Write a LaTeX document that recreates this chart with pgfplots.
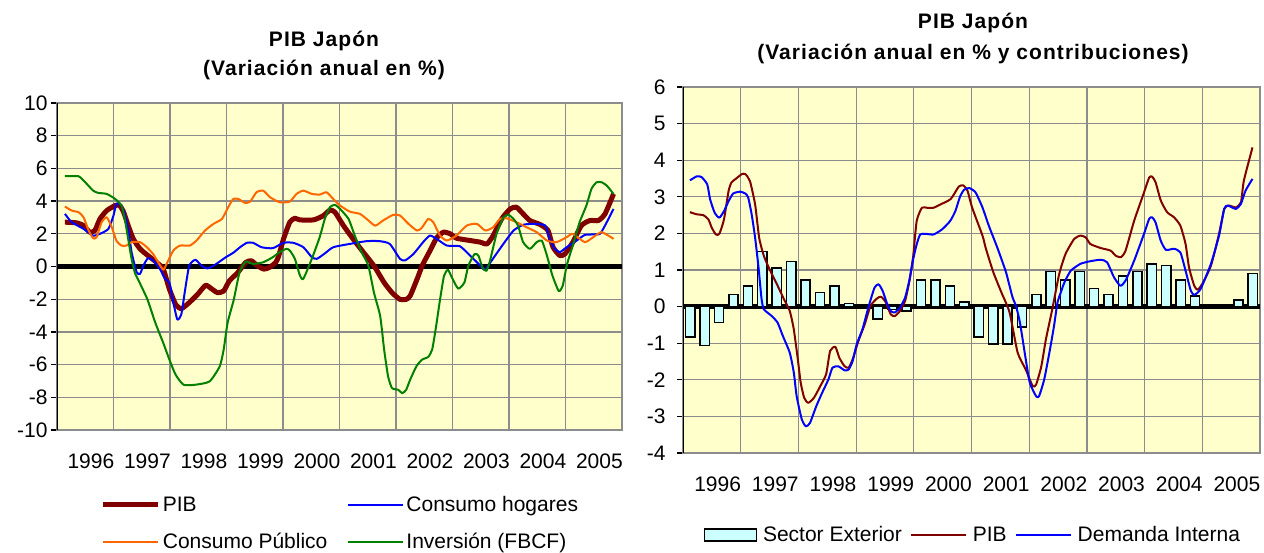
\documentclass[border=0pt]{standalone}
\usepackage{fontspec}
\setmainfont{Liberation Sans}
\newfontfamily\titlefont[LetterSpace=5]{Liberation Sans}
\usepackage{pgfplots}
\pgfplotsset{compat=1.18}
\definecolor{plotbg}{HTML}{FFFFCC}
\definecolor{pibred}{HTML}{800000}
\definecolor{gridgray}{HTML}{8C8C8C}
\definecolor{cyanbar}{HTML}{CCFFFF}
\definecolor{orangeC}{HTML}{FF6600}
\definecolor{greenI}{HTML}{008000}
\definecolor{blueC}{HTML}{0000FF}
\pgfplotsset{
  excelax/.style={
    scale only axis, anchor=south west,
    axis background/.style={fill=plotbg},
    axis line style={draw=gridgray, line width=1.2pt},
    xmin=0, xmax=10,
    xtick={0.6,1.6,2.6,3.6,4.6,5.6,6.6,7.6,8.6,9.6},
    xticklabels={1996,1997,1998,1999,2000,2001,2002,2003,2004,2005},
    minor xtick={1,2,3,4,5,6,7,8,9},
    xminorgrids=true, ymajorgrids=true,
    major grid style={draw=gridgray, line width=1.2pt},
    minor grid style={draw=gridgray, line width=1.2pt},
    x tick style={draw=none},
    y tick style={draw=black, line width=1.2pt},
    ytick pos=left, xtick pos=bottom,
    tick align=outside,
    major tick length=6pt, minor tick length=0pt,
    tick label style={font=\fontsize{21}{25}\selectfont},
    xticklabel style={yshift=-14pt},
    legend style={draw=none, fill=none, font=\fontsize{21}{25}\selectfont},
    legend cell align=left,
    legend image code/.code={\draw[##1] (0pt,0pt) -- (55pt,0pt);},
  }
}
\begin{document}
\begin{tikzpicture}
\useasboundingbox (0,0) rectangle (1264pt,552pt);
% ---------- titles
\node[font=\titlefont\fontsize{21}{25}\selectfont\bfseries] at (324pt,511pt) {PIB Japón};
\node[font=\titlefont\fontsize{21}{25}\selectfont\bfseries] at (324pt,482pt) {(Variación anual en \%)};
\node[font=\titlefont\fontsize{21}{25}\selectfont\bfseries] at (973pt,529pt) {PIB Japón};
\node[font=\titlefont\fontsize{21}{25}\selectfont\bfseries] at (973pt,498pt) {(Variación anual en \% y contribuciones)};
% ---------- left chart
\begin{axis}[excelax,
  at={(57pt,122pt)}, width=565pt, height=327pt,
  ymin=-10, ymax=10,
  ytick={-10,-8,-6,-4,-2,0,2,4,6,8,10},
  yticklabels={-10,-8,-6,-4,-2,0,2,4,6,8,10},
  extra y ticks={0}, extra y tick labels={},
  extra y tick style={ymajorgrids=true, major grid style={draw=black, line width=4.5pt}, major tick length=0pt},
  legend columns=2,
  legend style={at={(axis description cs:0.072,-0.19)}, anchor=north west,
    /tikz/every even column/.append style={column sep=18pt}, row sep=16pt},
]
\addplot[pibred, line width=5pt, line join=round, smooth, tension=0.35] coordinates {
(0.14,2.71)(0.35,2.67)(0.47,2.50)(0.58,2.10)(0.67,2.20)(0.76,2.91)(0.88,3.42)(1.03,3.73)(1.11,3.73)(1.18,3.32)(1.26,2.50)(1.35,1.69)(1.47,1.08)(1.61,0.67)(1.76,0.26)(1.88,-0.16)(1.99,-1.39)(2.10,-2.32)(2.20,-2.58)(2.34,-2.21)(2.49,-1.70)(2.63,-1.15)(2.73,-1.35)(2.84,-1.60)(2.95,-1.50)(3.05,-0.88)(3.20,-0.37)(3.34,0.25)(3.44,0.35)(3.55,0.04)(3.66,-0.16)(3.76,-0.06)(3.87,0.25)(3.92,0.60)(4.01,1.69)(4.12,2.71)(4.21,2.95)(4.30,2.85)(4.54,2.85)(4.71,3.10)(4.83,3.45)(4.92,3.32)(5.07,2.50)(5.24,1.69)(5.42,0.88)(5.61,0.04)(5.79,-0.98)(5.93,-1.60)(6.07,-2.01)(6.18,-2.01)(6.25,-1.80)(6.37,-0.80)(6.47,0.10)(6.60,0.95)(6.72,1.75)(6.84,2.10)(6.96,2.00)(7.07,1.73)(7.31,1.59)(7.49,1.49)(7.61,1.38)(7.72,1.89)(7.87,2.91)(8.02,3.52)(8.13,3.63)(8.25,3.22)(8.37,2.81)(8.55,2.57)(8.69,2.20)(8.78,1.18)(8.90,0.67)(8.99,0.77)(9.13,1.49)(9.28,2.50)(9.43,2.81)(9.58,2.81)(9.70,3.22)(9.85,4.44)
};
\addlegendentry{PIB}
\addplot[blueC, line width=2pt, line join=round, smooth, tension=0.35] coordinates {
(0.14,3.22)(0.26,2.71)(0.47,2.30)(0.64,1.89)(0.76,2.00)(0.91,2.30)(1.00,3.12)(1.05,3.83)(1.11,3.83)(1.18,3.42)(1.26,2.30)(1.32,0.88)(1.41,-0.35)(1.47,-0.45)(1.53,0.06)(1.61,0.51)(1.70,0.37)(1.82,-0.14)(1.91,-0.75)(1.99,-1.00)(2.06,-2.21)(2.13,-3.24)(2.20,-2.93)(2.26,-1.60)(2.34,0.04)(2.45,0.41)(2.56,0.04)(2.66,-0.12)(2.77,0.04)(2.98,0.55)(3.12,0.84)(3.24,1.18)(3.36,1.45)(3.47,1.45)(3.62,1.18)(3.82,1.12)(4.01,1.45)(4.18,1.45)(4.36,1.18)(4.51,0.57)(4.60,0.47)(4.74,0.80)(4.89,1.18)(5.18,1.38)(5.48,1.55)(5.71,1.55)(5.89,1.38)(6.07,0.47)(6.16,0.37)(6.31,0.77)(6.48,1.49)(6.60,1.89)(6.72,1.69)(6.90,1.28)(7.13,1.24)(7.31,0.67)(7.49,0.06)(7.57,-0.20)(7.67,0.25)(7.90,1.38)(8.08,2.20)(8.25,2.55)(8.43,2.61)(8.64,2.51)(8.72,1.69)(8.81,1.08)(8.90,0.88)(9.02,1.18)(9.20,1.59)(9.34,1.93)(9.49,1.96)(9.61,2.00)(9.70,2.51)(9.85,3.52)
};
\addlegendentry{Consumo hogares}
\addplot[orangeC, line width=2pt, line join=round, smooth, tension=0.35] coordinates {
(0.14,3.67)(0.26,3.42)(0.38,3.32)(0.47,3.01)(0.56,2.20)(0.64,1.73)(0.70,1.79)(0.79,2.71)(0.88,3.01)(0.97,2.40)(1.05,1.59)(1.14,1.28)(1.23,1.28)(1.32,1.49)(1.47,1.49)(1.59,1.18)(1.70,0.77)(1.79,0.26)(1.88,-0.20)(1.94,0.16)(2.06,0.98)(2.18,1.28)(2.35,1.28)(2.47,1.59)(2.62,2.20)(2.77,2.61)(2.92,2.91)(3.03,3.63)(3.12,4.13)(3.21,4.13)(3.33,3.89)(3.42,3.97)(3.53,4.54)(3.65,4.64)(3.77,4.24)(3.94,3.93)(4.12,3.97)(4.24,4.44)(4.36,4.64)(4.51,4.44)(4.65,4.40)(4.77,4.54)(4.89,4.13)(5.01,3.73)(5.18,3.36)(5.36,3.22)(5.48,2.91)(5.63,2.50)(5.77,2.81)(5.95,3.16)(6.07,3.12)(6.22,2.61)(6.37,2.20)(6.45,2.34)(6.57,2.91)(6.66,2.71)(6.78,1.89)(6.90,1.59)(7.07,1.89)(7.25,2.50)(7.43,2.61)(7.58,2.20)(7.72,2.40)(7.84,2.91)(7.96,2.95)(8.13,2.71)(8.31,2.40)(8.49,2.10)(8.67,1.59)(8.84,1.49)(9.02,1.79)(9.13,2.00)(9.34,1.49)(9.49,1.79)(9.64,2.10)(9.85,1.69)
};
\addlegendentry{Consumo Público}
\addplot[greenI, line width=2pt, line join=round, smooth, tension=0.35] coordinates {
(0.14,5.52)(0.38,5.52)(0.50,5.15)(0.64,4.64)(0.73,4.50)(0.88,4.44)(1.03,4.13)(1.14,3.73)(1.20,2.91)(1.26,1.69)(1.32,0.47)(1.38,-0.40)(1.45,-0.90)(1.60,-2.01)(1.74,-3.44)(1.88,-4.67)(1.99,-5.70)(2.10,-6.62)(2.24,-7.23)(2.45,-7.23)(2.70,-7.03)(2.88,-6.11)(2.95,-5.08)(3.02,-3.44)(3.13,-2.01)(3.23,-0.37)(3.34,0.30)(3.47,0.16)(3.65,0.26)(3.82,0.57)(3.94,0.88)(4.06,1.08)(4.12,0.98)(4.21,0.47)(4.30,-0.55)(4.36,-0.75)(4.51,0.47)(4.65,1.80)(4.74,2.91)(4.83,3.63)(4.92,3.77)(5.01,3.52)(5.16,2.91)(5.27,1.89)(5.39,0.88)(5.51,0.06)(5.61,-1.60)(5.72,-3.03)(5.79,-5.08)(5.86,-6.72)(5.93,-7.44)(6.04,-7.54)(6.11,-7.75)(6.18,-7.54)(6.25,-6.93)(6.36,-6.11)(6.46,-5.70)(6.57,-5.53)(6.64,-5.08)(6.71,-3.65)(6.78,-2.01)(6.85,-0.57)(6.92,-0.20)(6.99,-0.68)(7.10,-1.35)(7.21,-0.98)(7.28,0.04)(7.39,0.76)(7.46,0.66)(7.53,-0.06)(7.60,-0.27)(7.66,0.30)(7.78,2.00)(7.90,3.00)(7.99,3.16)(8.08,2.91)(8.16,2.50)(8.25,1.49)(8.37,1.08)(8.49,1.49)(8.58,1.59)(8.66,0.80)(8.72,0.06)(8.77,-0.57)(8.88,-1.50)(8.95,-1.19)(9.02,0.04)(9.09,0.86)(9.13,1.28)(9.25,2.71)(9.37,3.73)(9.46,4.75)(9.55,5.15)(9.64,5.15)(9.73,4.95)(9.85,4.44)
};
\addlegendentry{Inversión (FBCF)}
\draw[black, line width=1.5pt] (rel axis cs:0,0) -- (rel axis cs:0,1);
\end{axis}
% ---------- right chart
\begin{axis}[excelax,
  at={(683pt,99pt)}, width=577pt, height=366pt,
  ymin=-4, ymax=6,
  ytick={-4,-3,-2,-1,0,1,2,3,4,5,6},
  yticklabels={-4,-3,-2,-1,0,1,2,3,4,5,6},
  yticklabel style={xshift=-8pt},
  extra y ticks={0}, extra y tick labels={},
  extra y tick style={ymajorgrids=true, major grid style={draw=black, line width=4.5pt}, major tick length=0pt},
  legend columns=3,
  legend style={at={(axis description cs:0.03,-0.19)}, anchor=north west,
    /tikz/every odd column/.append style={column sep=4pt},
    /tikz/every even column/.append style={column sep=6pt}},
]
\addplot[ybar, bar width=0.16, bar shift=0pt, fill=cyanbar, draw=black, line width=1.5pt,
  legend image code/.code={\draw[fill=cyanbar, draw=black, line width=1.5pt] (0pt,-6pt) rectangle (52pt,6pt);}] coordinates {
(0.125,-0.83)(0.375,-1.06)(0.625,-0.44)(0.875,0.33)(1.125,0.56)(1.375,1.50)(1.625,1.06)(1.875,1.23)(2.125,0.73)(2.375,0.39)(2.625,0.56)(2.875,0.08)(3.125,-0.03)(3.375,-0.34)(3.625,-0.08)(3.875,-0.12)(4.125,0.73)(4.375,0.73)(4.625,0.56)(4.875,0.12)(5.125,-0.83)(5.375,-1.02)(5.625,-1.02)(5.875,-0.56)(6.125,0.33)(6.375,0.96)(6.625,0.73)(6.875,0.96)(7.125,0.50)(7.375,0.33)(7.625,0.84)(7.875,0.96)(8.125,1.17)(8.375,1.12)(8.625,0.73)(8.875,0.29)(9.125,-0.04)(9.375,-0.02)(9.625,0.18)(9.875,0.90)
};
\addlegendentry{Sector Exterior}
\addplot[pibred, line width=2pt, line join=round, smooth, tension=0.35] coordinates {
(0.12,2.58)(0.24,2.52)(0.35,2.50)(0.44,2.38)(0.50,2.15)(0.57,1.97)(0.63,1.99)(0.71,2.38)(0.79,3.16)(0.84,3.39)(0.93,3.51)(1.02,3.62)(1.08,3.62)(1.16,3.43)(1.25,2.79)(1.32,1.88)(1.40,1.39)(1.50,1.02)(1.64,0.57)(1.75,0.20)(1.85,-0.12)(1.92,-0.62)(1.99,-1.44)(2.04,-2.08)(2.10,-2.49)(2.17,-2.63)(2.27,-2.49)(2.38,-2.17)(2.48,-1.85)(2.55,-1.21)(2.64,-1.10)(2.71,-1.40)(2.80,-1.63)(2.87,-1.67)(2.94,-1.44)(3.04,-0.94)(3.15,-0.48)(3.25,0.02)(3.36,0.22)(3.43,0.27)(3.51,0.13)(3.60,-0.21)(3.67,-0.26)(3.76,-0.12)(3.85,0.16)(3.93,0.75)(3.99,1.39)(4.05,2.34)(4.14,2.70)(4.23,2.70)(4.34,2.70)(4.46,2.79)(4.64,2.94)(4.78,3.28)(4.86,3.31)(4.93,3.17)(5.01,2.71)(5.19,1.94)(5.25,1.58)(5.38,0.93)(5.52,0.38)(5.66,-0.16)(5.80,-1.26)(5.94,-1.72)(6.06,-2.17)(6.12,-2.13)(6.21,-1.63)(6.29,-0.89)(6.40,-0.07)(6.52,0.89)(6.63,1.44)(6.78,1.85)(6.89,1.94)(6.98,1.89)(7.06,1.71)(7.24,1.60)(7.41,1.53)(7.50,1.39)(7.59,1.35)(7.67,1.53)(7.82,2.35)(7.99,3.12)(8.08,3.53)(8.13,3.55)(8.19,3.40)(8.28,2.90)(8.39,2.58)(8.51,2.44)(8.62,2.21)(8.71,1.71)(8.77,1.07)(8.86,0.57)(8.92,0.46)(9.00,0.62)(9.15,1.12)(9.29,1.99)(9.38,2.67)(9.46,2.76)(9.58,2.71)(9.67,2.85)(9.72,3.44)(9.87,4.35)
};
\addlegendentry{PIB}
\addplot[blueC, line width=2pt, line join=round, smooth, tension=0.35] coordinates {
(0.12,3.45)(0.24,3.56)(0.32,3.54)(0.42,3.34)(0.47,2.93)(0.55,2.56)(0.63,2.43)(0.71,2.61)(0.79,2.88)(0.87,3.09)(0.99,3.14)(1.08,3.09)(1.13,2.98)(1.19,2.52)(1.25,1.88)(1.31,1.05)(1.36,0.23)(1.40,-0.07)(1.54,-0.26)(1.64,-0.44)(1.73,-0.80)(1.85,-1.26)(1.92,-1.80)(1.97,-2.45)(2.06,-3.09)(2.13,-3.27)(2.20,-3.18)(2.31,-2.72)(2.41,-2.36)(2.52,-1.99)(2.59,-1.67)(2.69,-1.63)(2.80,-1.74)(2.87,-1.72)(2.94,-1.49)(3.01,-1.03)(3.11,-0.62)(3.22,0.02)(3.32,0.52)(3.39,0.61)(3.46,0.43)(3.53,0.11)(3.60,-0.12)(3.67,-0.16)(3.76,-0.03)(3.85,0.25)(3.92,0.70)(3.99,1.30)(4.05,1.70)(4.11,1.97)(4.20,1.99)(4.34,1.97)(4.49,2.11)(4.63,2.34)(4.72,2.61)(4.80,3.00)(4.87,3.19)(4.96,3.24)(5.07,3.12)(5.19,2.71)(5.30,2.21)(5.45,1.60)(5.59,0.98)(5.63,0.75)(5.71,0.26)(5.77,0.02)(5.84,-0.44)(5.94,-1.44)(6.01,-2.08)(6.12,-2.45)(6.17,-2.45)(6.26,-1.99)(6.36,-1.17)(6.43,-0.53)(6.49,0.11)(6.55,0.40)(6.61,0.66)(6.72,0.98)(6.89,1.17)(7.06,1.24)(7.24,1.28)(7.35,1.21)(7.47,0.80)(7.58,0.57)(7.67,0.71)(7.82,1.26)(7.99,1.99)(8.08,2.40)(8.13,2.44)(8.19,2.30)(8.28,1.80)(8.37,1.55)(8.51,1.58)(8.62,1.48)(8.71,0.98)(8.80,0.44)(8.86,0.32)(8.97,0.48)(9.15,1.17)(9.29,1.94)(9.38,2.67)(9.44,2.76)(9.58,2.67)(9.67,2.81)(9.75,3.17)(9.87,3.49)
};
\addlegendentry{Demanda Interna}
\draw[black, line width=1.5pt] (rel axis cs:0,0) -- (rel axis cs:0,1);
\end{axis}
\end{tikzpicture}
\end{document}
